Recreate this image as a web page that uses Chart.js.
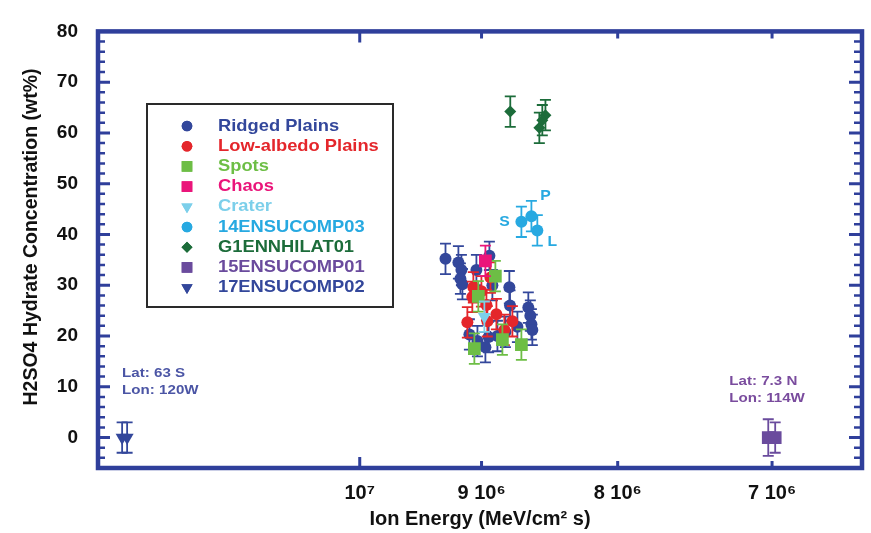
<!DOCTYPE html>
<html>
<head>
<meta charset="utf-8">
<script src="https://cdn.jsdelivr.net/npm/chart.js@4.4.1/dist/chart.umd.min.js"></script>
<style>
  html, body { margin: 0; padding: 0; background: #fff; }
  #wrap { width: 871px; height: 533px; }
</style>
</head>
<body>
<div id="wrap"><canvas id="c" width="871" height="533"></canvas></div>
<script>
// ---- data: ion energy (MeV/cm^2 s), H2SO4 hydrate concentration (wt%), 1-sigma error ----
const ridgedEnergy = [9.285e6, 9.182e6, 9.158e6, 9.166e6, 9.150e6, 9.040e6, 8.939e6, 8.916e6, 8.786e6, 8.781e6, 8.643e6, 8.628e6, 8.620e6, 8.613e6, 8.725e6, 8.816e6, 8.945e6, 9.032e6, 8.970e6, 9.095e6, 8.877e6];
const ridgedConc   = [35.2, 34.5, 33.0, 31.3, 30.2, 33.0, 35.8, 30.0, 29.6, 26.0, 25.6, 24.0, 22.3, 21.2, 21.8, 20.8, 19.8, 19.0, 17.8, 20.3, 20.0];
const ridgedErr    = [3.0, 3.2, 3.0, 3.0, 3.0, 3.0, 2.8, 3.0, 3.2, 3.0, 3.0, 3.0, 3.0, 3.0, 3.0, 3.0, 3.0, 3.0, 3.0, 3.0, 3.0];

const lowAlbedoEnergy = [9.064e6, 9.072e6, 8.962e6, 8.885e6, 9.111e6, 8.955e6, 8.763e6, 8.931e6, 8.824e6, 9.001e6];
const lowAlbedoConc   = [29.6, 27.7, 26.1, 24.3, 22.7, 22.9, 22.9, 31.5, 21.2, 28.8];
const lowAlbedoErr    = [3.0, 3.0, 3.0, 3.0, 3.0, 3.0, 3.0, 3.0, 3.0, 3.0];

const spotsEnergy = [8.893e6, 9.025e6, 8.839e6, 9.056e6, 8.695e6];
const spotsConc   = [31.8, 27.8, 19.3, 17.5, 18.3];
const spotsErr    = [3.0, 3.0, 3.0, 3.0, 3.0];

const chaosEnergy = [8.970e6];
const chaosConc   = [34.8];
const chaosErr    = [3.0];

const craterEnergy = [8.978e6];
const craterConc   = [23.8];
const craterErr    = [3.0];

const ensu14Energy = [8.695e6, 8.620e6, 8.576e6];
const ensu14Conc   = [42.5, 43.6, 40.8];
const ensu14Err    = [3.0, 3.0, 3.0];
const ensu14Names  = ['S', 'P', 'L'];

const g1Energy = [8.779e6, 8.516e6, 8.561e6, 8.539e6];
const g1Conc   = [64.2, 63.5, 61.0, 62.5];
const g1Err    = [3.0, 3.0, 3.0, 3.0];

const ensu15Energy = [7.023e6, 6.981e6];
const ensu15Conc   = [0.0, 0.0];
const ensu15Err    = [3.6, 3.0];

const ensu17Energy = [1.2282e7, 1.2229e7];
const ensu17Conc   = [0.0, 0.0];
const ensu17Err    = [3.0, 3.0];

const seriesNames = ['Ridged Plains', 'Low-albedo Plains', 'Spots', 'Chaos', 'Crater',
                     '14ENSUCOMP03', 'G1ENNHILAT01', '15ENSUCOMP01', '17ENSUCOMP02'];

const xTickValues = [7e6, 8e6, 9e6, 1e7];
const xTickLabels = ['7 10\u2076', '8 10\u2076', '9 10\u2076', '10\u2077'];
const yTickValues = [0, 10, 20, 30, 40, 50, 60, 70, 80];

const X_TITLE = 'Ion Energy (MeV/cm\u00B2 s)';
const Y_TITLE = 'H2SO4 Hydrate Concentration (wt%)';

// ---- styling ----
const FONT = '"Liberation Sans", Arial, Helvetica, sans-serif';
const FRAME = '#2f3f9b';
const styles = [
  { color: '#33479b', shape: 'circle',   r: 6,   rot: 0 },
  { color: '#e4262b', shape: 'circle',   r: 6,   rot: 0 },
  { color: '#6dbe45', shape: 'rect',     r: 9,   rot: 0 },
  { color: '#ea157a', shape: 'rect',     r: 9,   rot: 0 },
  { color: '#7ccfea', shape: 'triangle', r: 7.5, rot: 180 },
  { color: '#27a9e1', shape: 'circle',   r: 6,   rot: 0 },
  { color: '#1c6c3a', shape: 'rectRot',  r: 6,   rot: 0 },
  { color: '#6a4b9d', shape: 'rect',     r: 9,   rot: 0 },
  { color: '#33479b', shape: 'triangle', r: 7.5, rot: 180 }
];

const seriesData = [
  [ridgedEnergy, ridgedConc, ridgedErr],
  [lowAlbedoEnergy, lowAlbedoConc, lowAlbedoErr],
  [spotsEnergy, spotsConc, spotsErr],
  [chaosEnergy, chaosConc, chaosErr],
  [craterEnergy, craterConc, craterErr],
  [ensu14Energy, ensu14Conc, ensu14Err],
  [g1Energy, g1Conc, g1Err],
  [ensu15Energy, ensu15Conc, ensu15Err],
  [ensu17Energy, ensu17Conc, ensu17Err]
];

const datasets = seriesData.map(([ex, cy, err], i) => ({
  label: seriesNames[i],
  data: ex.map((e, k) => ({ x: e, y: cy[k] })),
  yErr: err,
  backgroundColor: styles[i].color,
  borderColor: styles[i].color,
  borderWidth: 0,
  pointStyle: styles[i].shape,
  pointRadius: styles[i].r,
  pointRotation: styles[i].rot,
  order: seriesNames.length - i
}));

// stretched bold text helper
function drawText(ctx, text, x, y, size, color, sx, align) {
  ctx.save();
  ctx.font = 'bold ' + size + 'px ' + FONT;
  ctx.fillStyle = color;
  ctx.textBaseline = 'middle';
  ctx.textAlign = 'left';
  const w = ctx.measureText(text).width * sx;
  let left = x;
  if (align === 'center') left = x - w / 2;
  if (align === 'right') left = x - w;
  ctx.translate(left, y);
  ctx.scale(sx, 1);
  ctx.fillText(text, 0, 0);
  ctx.restore();
}

// vertical error bars with caps, drawn under each dataset's markers
const errorBars = {
  id: 'errorBars',
  beforeDatasetDraw(chart, args) {
    const ds = chart.data.datasets[args.index];
    if (!ds.yErr) return;
    const { ctx, scales: { x, y } } = chart;
    ctx.save();
    ctx.strokeStyle = ds.borderColor;
    ctx.lineWidth = 1.8;
    ds.data.forEach((p, i) => {
      const e = ds.yErr[i];
      const px = x.getPixelForValue(p.x);
      const t = y.getPixelForValue(p.y + e);
      const b = y.getPixelForValue(p.y - e);
      ctx.beginPath();
      ctx.moveTo(px, t); ctx.lineTo(px, b);
      ctx.moveTo(px - 5.5, t); ctx.lineTo(px + 5.5, t);
      ctx.moveTo(px - 5.5, b); ctx.lineTo(px + 5.5, b);
      ctx.stroke();
    });
    ctx.restore();
  }
};

// boxed frame with inward ticks on all four sides
const frame = {
  id: 'frame',
  afterDraw(chart) {
    const { ctx, chartArea: a, scales: { x, y } } = chart;
    ctx.save();
    ctx.strokeStyle = FRAME;
    ctx.lineCap = 'butt';
    // y ticks: majors every 10, minors every 2
    for (let v = -6; v <= 80; v += 2) {
      const major = v % 10 === 0;
      const py = y.getPixelForValue(v);
      const len = major ? 12 : 7;
      ctx.lineWidth = major ? 3 : 2.5;
      ctx.beginPath();
      ctx.moveTo(a.left, py); ctx.lineTo(a.left + len, py);
      ctx.moveTo(a.right, py); ctx.lineTo(a.right - len - 1, py);
      ctx.stroke();
    }
    // x ticks: decade tick longer
    xTickValues.forEach(v => {
      const px = x.getPixelForValue(v);
      const len = v === 1e7 ? 11 : 7;
      ctx.lineWidth = 3;
      ctx.beginPath();
      ctx.moveTo(px, a.bottom); ctx.lineTo(px, a.bottom - len);
      ctx.moveTo(px, a.top); ctx.lineTo(px, a.top + len);
      ctx.stroke();
    });
    ctx.lineWidth = 4.5;
    ctx.strokeRect(a.left, a.top, a.right - a.left, a.bottom - a.top);
    ctx.restore();
  }
};

// y-axis title, legend box, point labels and location notes
const notes = {
  id: 'notes',
  afterDraw(chart) {
    const { ctx, scales: { x, y } } = chart;
    const H = Chart.helpers;

    // rotated y-axis title
    ctx.save();
    ctx.translate(32, 237);
    ctx.rotate(-Math.PI / 2);
    ctx.font = 'bold 19.5px ' + FONT;
    ctx.fillStyle = '#111';
    ctx.textAlign = 'center';
    ctx.textBaseline = 'middle';
    ctx.fillText(Y_TITLE, 0, 0);
    ctx.restore();

    // point labels for the 14ENSUCOMP03 spots
    const offs = [[-17, 0], [14, -20], [15, 11]];
    ensu14Names.forEach((n, i) => {
      const px = x.getPixelForValue(ensu14Energy[i]);
      const py = y.getPixelForValue(ensu14Conc[i]);
      drawText(ctx, n, px + offs[i][0], py + offs[i][1], 15, styles[5].color, 1.05, 'center');
    });

    // location notes
    const lx = x.getPixelForValue(ensu17Energy[0]);
    drawText(ctx, 'Lat: 63 S', lx, 373, 13.5, '#4b55a5', 1.12, 'left');
    drawText(ctx, 'Lon: 120W', lx, 390, 13.5, '#4b55a5', 1.12, 'left');
    const rx = x.getPixelForValue(ensu15Energy[0]);
    drawText(ctx, 'Lat: 7.3 N', rx - 39, 381, 13.5, '#7a4c9e', 1.12, 'left');
    drawText(ctx, 'Lon: 114W', rx - 39, 398, 13.5, '#7a4c9e', 1.12, 'left');

    // legend
    const bx = 147, by = 104, bw = 246, bh = 203;
    ctx.save();
    ctx.fillStyle = '#fff';
    ctx.fillRect(bx, by, bw, bh);
    ctx.strokeStyle = '#2a2a2a';
    ctx.lineWidth = 2;
    ctx.strokeRect(bx, by, bw, bh);
    ctx.restore();
    seriesNames.forEach((name, i) => {
      const ry = 126 + i * 20.2;
      const s = styles[i];
      ctx.save();
      ctx.fillStyle = s.color;
      ctx.strokeStyle = s.color;
      ctx.lineWidth = 0;
      const r = s.shape === 'circle' ? 5.3 : (s.shape === 'rectRot' ? 5.5 : (s.shape === 'rect' ? 7.5 : 6.5));
      H.drawPoint(ctx, { pointStyle: s.shape, radius: r, rotation: s.rot, borderWidth: 0 }, 187, ry);
      ctx.fill();
      ctx.restore();
      drawText(ctx, name, 218, ry, 16.5, s.color, 1.11, 'left');
    });
  }
};

new Chart(document.getElementById('c'), {
  type: 'scatter',
  data: { datasets },
  options: {
    responsive: false,
    animation: false,
    devicePixelRatio: 1,
    layout: { padding: { top: 18, right: 8, bottom: 0, left: 0 } },
    plugins: { legend: { display: false }, tooltip: { enabled: false } },
    scales: {
      x: {
        type: 'logarithmic',
        reverse: true,
        min: 6.476e6,
        max: 1.2541e7,
        afterBuildTicks: s => { s.ticks = xTickValues.map(v => ({ value: v })); },
        afterFit: s => { s.height = 65; },
        grid: { display: false, drawTicks: false },
        border: { display: false },
        ticks: {
          autoSkip: false, maxRotation: 0, padding: 13, color: '#111',
          font: { family: FONT, size: 20, weight: 'bold' },
          callback: v => { const i = xTickValues.indexOf(v); return i >= 0 ? xTickLabels[i] : ''; }
        },
        title: {
          display: true, text: X_TITLE, color: '#111',
          font: { family: FONT, size: 20, weight: 'bold' },
          padding: { top: 0, bottom: 2 }
        }
      },
      y: {
        min: -6,
        max: 80,
        afterBuildTicks: s => { s.ticks = yTickValues.map(v => ({ value: v })); },
        afterFit: s => { s.width = 98; },
        grid: { display: false, drawTicks: false },
        border: { display: false },
        ticks: {
          padding: 20, color: '#111',
          font: { family: FONT, size: 19, weight: 'bold' }
        },
        title: { display: false }
      }
    }
  },
  plugins: [errorBars, frame, notes]
});
</script>
</body>
</html>
